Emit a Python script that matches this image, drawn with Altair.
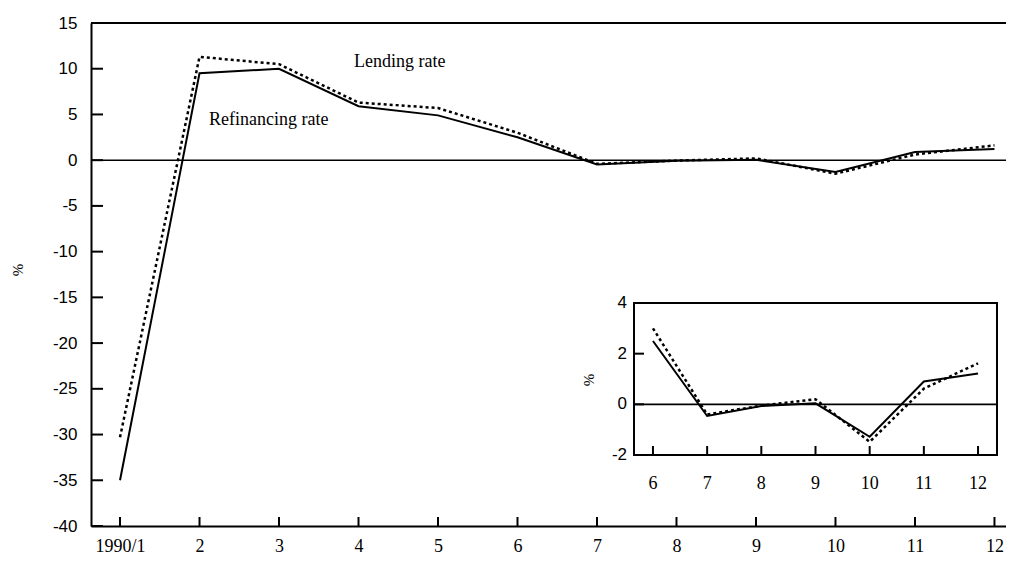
import json
import altair as alt
import pandas as pd

# ---------------- data ----------------
months = list(range(1, 13))
month_labels = ["1990/1", "2", "3", "4", "5", "6", "7", "8", "9", "10", "11", "12"]
refinancing = [-35.0, 9.5, 10.0, 5.9, 4.9, 2.5, -0.46, -0.07, 0.04, -1.28, 0.9, 1.22]
lending = [-30.3, 11.3, 10.5, 6.3, 5.7, 3.0, -0.4, -0.05, 0.2, -1.48, 0.62, 1.62]
y_ticks = [15, 10, 5, 0, -5, -10, -15, -20, -25, -30, -35, -40]

inset_months = [6, 7, 8, 9, 10, 11, 12]
inset_y_ticks = [4, 2, 0, -2]

annotations = ["Lending rate", "Refinancing rate"]
ann_x = [4.52, 2.87]
ann_y = [10.7, 4.4]

# ---------------- layout ----------------
W, H = 915, 503
SERIF = "Liberation Serif"
SANS = "Liberation Sans"
FS = 17

main_x = alt.Scale(domain=[0.635, 12.145], nice=False, zero=False)
main_y = alt.Scale(domain=[-40, 15], nice=False, zero=False)

label_expr = json.dumps(month_labels) + "[datum.value - 1]"
x_axis = alt.Axis(values=months, labelExpr=label_expr, labelFont=SERIF, labelFontSize=18,
                  labelColor="black", labelPadding=11, labelAngle=0, labelFlush=False,
                  ticks=False, domainColor="black", domainWidth=2, grid=False, title=None)
y_axis = alt.Axis(values=y_ticks, labelExpr="'' + datum.value", labelFont=SANS, labelFontSize=FS,
                  labelColor="black", labelPadding=14, labelFlush=False, labelOverlap=False,
                  ticks=False, domainColor="black", domainWidth=2, grid=False, title=None)

df = pd.DataFrame({"month": months, "refinancing": refinancing, "lending": lending})

def X(field):
    return alt.X(field, scale=main_x, axis=x_axis)

def Y(field):
    return alt.Y(field, scale=main_y, axis=y_axis)

solid = alt.Chart(df).mark_line(color="black", strokeWidth=2).encode(
    x=X("month:Q"), y=Y("refinancing:Q"))
dotted = alt.Chart(df).mark_line(color="black", strokeWidth=2.5, strokeDash=[3, 3]).encode(
    x=X("month:Q"), y=Y("lending:Q"))

ytick_df = pd.DataFrame({"v": y_ticks})
yticks = alt.Chart(ytick_df).mark_rule(color="black", strokeWidth=2).encode(
    y=Y("v:Q"), x=alt.value(0), x2=alt.value(12))
xtick_df = pd.DataFrame({"m": months})
xticks = alt.Chart(xtick_df).mark_rule(color="black", strokeWidth=2).encode(
    x=X("m:Q"), y=alt.value(H), y2=alt.value(H - 9))

top_line = alt.Chart(pd.DataFrame({"v": [15]})).mark_rule(color="black", strokeWidth=2).encode(
    y=Y("v:Q"), x=alt.value(0), x2=alt.value(W))
zero_line = alt.Chart(pd.DataFrame({"v": [0]})).mark_rule(color="black", strokeWidth=1.6).encode(
    y=Y("v:Q"), x=alt.value(0), x2=alt.value(W))

ann_df = pd.DataFrame({"label": annotations, "x": ann_x, "y": ann_y})
ann = alt.Chart(ann_df).mark_text(font=SERIF, fontSize=18, color="black", align="center",
                                  baseline="middle").encode(
    x=X("x:Q"), y=Y("y:Q"), text="label:N")

ytitle = alt.Chart(pd.DataFrame({"t": ["%"]})).mark_text(
    font=SERIF, fontSize=15, color="black", angle=270, align="center", baseline="middle").encode(
    x=alt.value(-73), y=alt.value(247), text="t:N")

main = alt.layer(zero_line, top_line, solid, dotted, yticks, xticks, ann, ytitle)

# ---------------- inset ----------------
inset_x = alt.Scale(domain=[5.65, 12.35], range=[543, 906], nice=False, zero=False)
inset_y = alt.Scale(domain=[-2, 4], range=[432, 280], nice=False, zero=False)

def IX(field):
    return alt.X(field, scale=inset_x, axis=None)

def IY(field):
    return alt.Y(field, scale=inset_y, axis=None)

frame_df = pd.DataFrame({"x1": [5.65], "x2": [12.35], "y1": [-2], "y2": [4]})
frame = alt.Chart(frame_df).mark_rect(fill="white", stroke="black", strokeWidth=2).encode(
    x=IX("x1:Q"), x2="x2:Q", y=IY("y1:Q"), y2="y2:Q")

izero_df = pd.DataFrame({"x1": [5.65], "x2": [12.35], "v": [0]})
izero = alt.Chart(izero_df).mark_rule(color="black", strokeWidth=1.8).encode(
    x=IX("x1:Q"), x2="x2:Q", y=IY("v:Q"))

idf = df[df["month"].isin(inset_months)]
isolid = alt.Chart(idf).mark_line(color="black", strokeWidth=2).encode(
    x=IX("month:Q"), y=IY("refinancing:Q"))
idotted = alt.Chart(idf).mark_line(color="black", strokeWidth=2.5, strokeDash=[3, 3]).encode(
    x=IX("month:Q"), y=IY("lending:Q"))

ixt_df = pd.DataFrame({"m": inset_months, "lab": [str(m) for m in inset_months]})
ixticks = alt.Chart(ixt_df).mark_rule(color="black", strokeWidth=2).encode(
    x=IX("m:Q"), y=alt.value(432), y2=alt.value(423))
ixlabels = alt.Chart(ixt_df).mark_text(font=SERIF, fontSize=18, color="black", align="center",
                                       baseline="middle").encode(
    x=IX("m:Q"), y=alt.value(461), text="lab:N")

iyt_df = pd.DataFrame({"v": inset_y_ticks, "lab": [str(v) for v in inset_y_ticks]})
iyticks = alt.Chart(iyt_df).mark_rule(color="black", strokeWidth=2).encode(
    y=IY("v:Q"), x=alt.value(543), x2=alt.value(553))
iylabels = alt.Chart(iyt_df).mark_text(font=SANS, fontSize=FS, color="black", align="right",
                                       baseline="middle").encode(
    y=IY("v:Q"), x=alt.value(536), text="lab:N")

ititle = alt.Chart(pd.DataFrame({"t": ["%"]})).mark_text(
    font=SERIF, fontSize=15, color="black", angle=270, align="center", baseline="middle").encode(
    x=alt.value(498), y=alt.value(357), text="t:N")

inset = alt.layer(frame, izero, isolid, idotted, ixticks, ixlabels, iyticks, iylabels, ititle)

chart = alt.layer(main, inset).resolve_scale(
    x="independent", y="independent"
).properties(
    width=W, height=H,
    padding={"left": 83, "top": 15, "right": 0, "bottom": 28},
    autosize=alt.AutoSizeParams(type="none"),
    background="white",
).configure_view(stroke=None)

chart.save("out.html", embed_options={"renderer": "svg", "actions": False})
